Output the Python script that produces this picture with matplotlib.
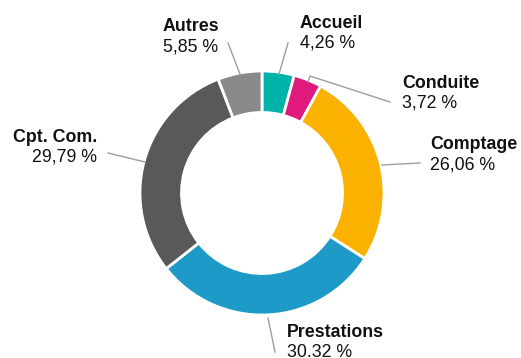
import matplotlib.pyplot as plt

# Répartition par activité
labels = ['Accueil', 'Conduite', 'Comptage', 'Prestations', 'Cpt. Com.', 'Autres']
values = [4.26, 3.72, 26.06, 30.32, 29.79, 5.85]
value_texts = ['4,26 %', '3,72 %', '26,06 %', '30.32 %', '29,79 %', '5,85 %']
colors = ['#00b3aa', '#e0197d', '#fbb100', '#1e9ac8', '#59595b', '#88898b']

plt.rcParams['font.family'] = ['Liberation Sans', 'DejaVu Sans']

W, H = 521, 358
fig = plt.figure(figsize=(W / 100, H / 100), dpi=100)
ax = fig.add_axes([0, 0, 1, 1])

cx, cy, r = 262, 193, 122
ax.pie(values, colors=colors, center=(cx, cy), radius=r,
       startangle=-90, counterclock=True,
       wedgeprops=dict(width=r * 0.34, edgecolor='white', linewidth=2))

ax.set_xlim(0, W)
ax.set_ylim(H, 0)
ax.set_aspect('equal')
ax.axis('off')

# position du libellé (x, ligne de base du titre, alignement) et trait de rappel
layout = {
    'Accueil': (300, 28, 'left', [(279, 74), (288, 43)]),
    'Conduite': (402, 88, 'left', [(308, 82), (310, 76), (390, 102)]),
    'Comptage': (430, 149, 'left', [(382, 165), (420, 163)]),
    'Prestations': (287, 337, 'left', [(268, 318), (275, 352)]),
    'Cpt. Com.': (97, 142, 'right', [(108, 153), (145, 162)]),
    'Autres': (163, 31, 'left', [(228, 43), (240, 74)]),
}

line_color = '#9c9cab'
for name, vtxt in zip(labels, value_texts):
    x, y, ha, pts = layout[name]
    ax.text(x, y, name, ha=ha, va='baseline', fontsize=12.8,
            fontweight='bold', color='#111111')
    ax.text(x, y + 20, vtxt, ha=ha, va='baseline', fontsize=12.8,
            color='#111111')
    xs = [p[0] for p in pts]
    ys = [p[1] for p in pts]
    ax.plot(xs, ys, color=line_color, lw=1)

fig.savefig('out.png', dpi=100)
